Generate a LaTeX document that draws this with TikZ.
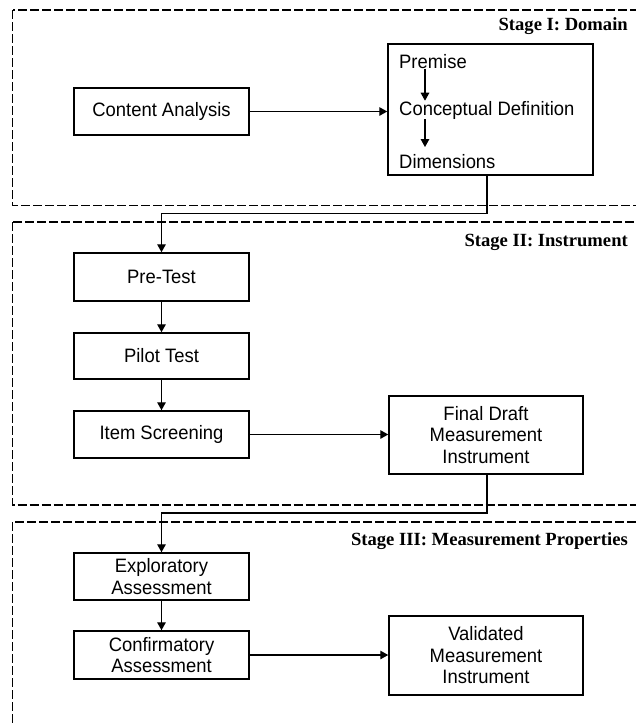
\documentclass[tikz,border=0pt]{standalone}
\usepackage{fontspec}
\setmainfont[FakeStretch=0.95]{Liberation Sans}
\newfontfamily\stagefont{Liberation Serif}
\usetikzlibrary{arrows.meta}
\begin{document}
\begin{tikzpicture}[x=1pt,y=-1pt,
  box/.style={draw, line width=1.5pt, rectangle, inner sep=0pt, align=center,
    font=\fontsize{19.4}{21.5}\selectfont},
  lbl/.style={anchor=base west, inner sep=0pt, font=\fontsize{19.4}{21.5}\selectfont},
  stagelbl/.style={anchor=base east, inner sep=0pt,
    font=\stagefont\bfseries\fontsize{18.6}{20}\selectfont},
  region/.style={draw, line width=1.2pt, dash pattern=on 9pt off 3pt},
  arr/.style={line width=1.4pt, -{Triangle[length=8pt,width=8.5pt]}}]
\useasboundingbox (0,0) rectangle (636,724);
\clip (0,0) rectangle (636,724);

% stage regions
\draw[region] (12.5,10) rectangle (700,205.5);
\draw[region] (12.5,222) rectangle (700,505);
\draw[region] (12.5,522) rectangle (700,800);

\node[stagelbl] (s1) at (628,30.7) {Stage I: Domain};
\node[stagelbl] (s2) at (628,246.7) {Stage II: Instrument};
\node[stagelbl] (s3) at (628,545.5) {Stage III: Measurement Properties};

% Stage I
\node[box, minimum width=175pt, minimum height=47pt] (ca) at (161.5,111.5) {Content Analysis};
\node[box, minimum width=205pt, minimum height=131pt] (pd) at (490.5,109.5) {};
\node[lbl] (prem) at (399,68.3) {Premise};
\node[lbl] (cd) at (399,115) {Conceptual Definition};
\node[lbl] (dim) at (399,168.3) {Dimensions};
\coordinate (ax) at (425,0);
\draw[arr] (ax |- prem.south) -- (ax |- cd.north);
\draw[arr, shorten >=7pt] (ax |- cd.south) -- (ax |- dim.north);
\draw[arr] (ca.east) -- (ca.east -| pd.west);

% Stage II
\node[box, minimum width=175pt, minimum height=48pt] (pre) at (161.5,277) {Pre-Test};
\node[box, minimum width=175pt, minimum height=46pt] (pil) at (161.5,356) {Pilot Test};
\node[box, minimum width=175pt, minimum height=47pt] (item) at (161.5,434.5) {Item Screening};
\node[box, minimum width=194pt, minimum height=78pt] (fd) at (486,435) {Final Draft\\Measurement\\Instrument};
\draw[arr] (pre) -- (pil);
\draw[arr] (pil) -- (item);
\draw[arr] (item.east) -- (item.east -| fd.west);

\coordinate (j1) at (487,213.5);
\draw[arr] (j1 |- pd.south) -- (j1) -| (pre.north);

% Stage III
\node[box, minimum width=175pt, minimum height=47pt] (exp) at (161.5,576.5) {Exploratory\\Assessment};
\node[box, minimum width=175pt, minimum height=48pt] (conf) at (161.5,655) {Confirmatory\\Assessment};
\node[box, minimum width=194pt, minimum height=79pt] (val) at (486,655.5) {Validated\\Measurement\\Instrument};
\draw[arr] (exp) -- (conf);
\draw[arr] (conf.east) -- (conf.east -| val.west);

\coordinate (j2) at (487,513);
\draw[arr] (j2 |- fd.south) -- (j2) -| (exp.north);
\end{tikzpicture}
\end{document}
